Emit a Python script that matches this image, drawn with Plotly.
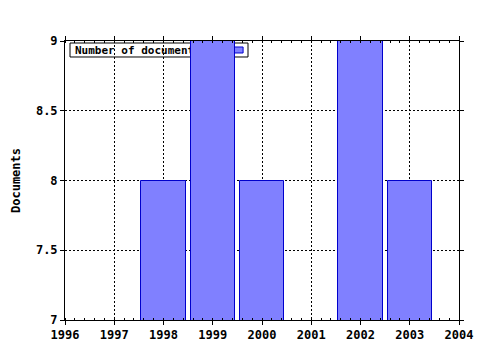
import plotly.graph_objects as go

years = [1998, 1999, 2000, 2002, 2003]
documents = [8, 9, 8, 9, 8]
series_name = "Number of documents"
x_ticks = [1996, 1997, 1998, 1999, 2000, 2001, 2002, 2003, 2004]
y_ticks = [7, 7.5, 8, 8.5, 9]

font_family = "DejaVu Sans Mono"

fig = go.Figure()
fig.add_trace(go.Bar(
    x=years, y=documents, name=series_name, width=0.9,
    marker=dict(color="#8080FF", line=dict(color="#0000CC", width=1)),
    showlegend=False,
))

axis_common = dict(
    showline=True, linecolor="black", linewidth=1, mirror="ticks",
    ticks="outside", ticklen=4, tickcolor="black",
    showgrid=True, gridcolor="black", griddash="2px,2px", gridwidth=1,
    zeroline=False, automargin=False,
    tickfont=dict(family=font_family, size=12, color="black", weight="bold"),
)

fig.update_xaxes(
    range=[1996, 2004], tickvals=x_ticks, ticktext=[str(v) for v in x_ticks],
    minor=dict(ticks="inside", dtick=0.2, tick0=1996, ticklen=2, tickcolor="black", showgrid=False),
    **axis_common,
)
fig.update_yaxes(
    range=[7, 9], tickvals=y_ticks, ticktext=[f"{v:g}" for v in y_ticks],
    title=dict(text="Documents", font=dict(family=font_family, size=12, color="black", weight="bold"), standoff=12),
    **axis_common,
)

# legend box (drawn beneath the bars, as in the original)
fig.add_shape(
    type="rect", xref="paper", yref="paper", x0=0.0127, x1=0.4645, y0=0.9427, y1=0.9928,
    fillcolor="white", line=dict(color="black", width=1), layer="below",
    label=dict(text=series_name, textposition="middle left",
               font=dict(family=font_family, size=11, color="black", weight="bold"), padding=2),
)
fig.add_shape(
    type="rect", xref="paper", yref="paper", x0=0.429, x1=0.452, y0=0.957, y1=0.9785,
    fillcolor="#8080FF", line=dict(color="#0000CC", width=1), layer="below",
)

fig.update_layout(
    width=480, height=350,
    margin=dict(l=65, r=21, t=41, b=30),
    paper_bgcolor="white", plot_bgcolor="white",
    bargap=0,
)

fig.write_html("out.html")
